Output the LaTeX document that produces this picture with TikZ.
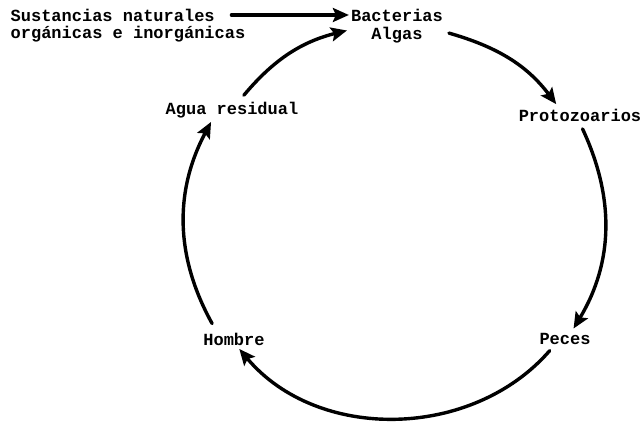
\documentclass[tikz,border=0pt]{standalone}
\usepackage{fontspec}
\setmonofont{Liberation Mono}
\usetikzlibrary{arrows.meta}

\begin{document}
\begin{tikzpicture}[x=1pt, y=1pt, line cap=round, line join=round,
                    flow/.style={line width=3.4pt,
                      -{Stealth[length=16pt, width=14pt, inset=3pt]}},
                    lbl/.style={font=\fontsize{17}{18}\selectfont\ttfamily\bfseries,
                      inner sep=2pt, align=center}]
  % picture frame, 640 x 425
  \useasboundingbox (0,0) rectangle (640,425);

  % ---- Nodes (cycle round a circle, centre about (395,205)) ----
  \node[lbl, anchor=west, inner sep=0.5pt] (src1) at (10,410) {Sustancias naturales};
  \node[lbl, anchor=west, inner sep=0.5pt] (src2) at (10,391) {orgánicas e inorgánicas};
  \node[lbl]              (bact)   at (397,399) {Bacterias\\Algas};
  \node[lbl]              (proto)  at (580,310) {Protozoarios};
  \node[lbl]              (peces)  at (565,86)  {Peces};
  \node[lbl]              (hombre) at (234,86)  {Hombre};
  \node[lbl]              (agua)   at (232,315) {Agua residual};

  % ---- Input arrow ----
  \draw[flow, shorten <=16pt] (src1.east) -- (src1.east -| bact.west);

  % ---- Cycle ----
  \draw[flow, shorten <=6pt, shorten >=2pt]
    ([xshift=8pt]agua.north) to[out=50, in=194] ([yshift=-4pt]bact.west);
  \draw[flow, shorten <=4pt, shorten >=3pt]
    ([yshift=-6pt]bact.east) to[out=-16, in=127] ([xshift=-22pt]proto.north);
  \draw[flow, shorten <=6pt, shorten >=3pt]
    (proto.south) to[out=-65, in=59] ([xshift=7pt]peces.north);
  \draw[flow, shorten <=5pt, shorten >=2pt]
    ([xshift=-12pt]peces.south) to[out=-131, in=-50] ([xshift=4pt]hombre.south);
  \draw[flow, shorten <=8pt, shorten >=2pt]
    ([xshift=-18pt]hombre.north) to[out=119, in=242] ([xshift=-20pt]agua.south);
\end{tikzpicture}
\end{document}
